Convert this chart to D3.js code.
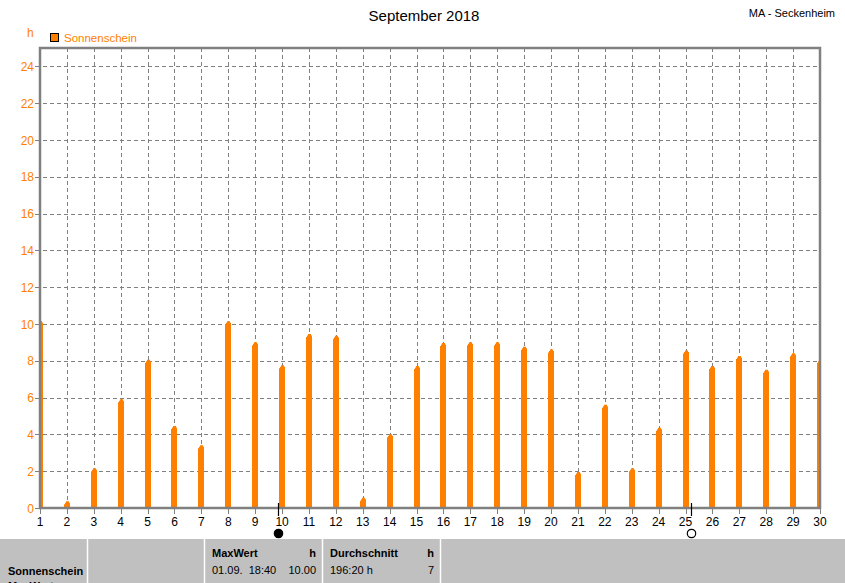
<!DOCTYPE html>
<html><head><meta charset="utf-8">
<script src="https://cdn.jsdelivr.net/npm/d3@7"></script>
<style>
html,body{margin:0;padding:0;background:#fff;}
svg{display:block;font-family:"Liberation Sans",Arial,sans-serif;}
</style></head>
<body>
<svg id="c" width="845" height="583"></svg>
<script>
const days = d3.range(1, 31);
const sunshine = [10.0,0.2,2.0,5.75,7.9,4.3,3.25,9.98,8.85,7.6,
                  9.3,9.2,0.4,3.85,7.55,8.8,8.85,8.85,8.6,8.45,
                  1.8,5.45,2.0,4.2,8.4,7.55,8.1,7.35,8.25,7.9];
const yTicks = d3.range(0, 25, 2);
const title = "September 2018";
const station = "MA - Seckenheim";
const seriesName = "Sonnenschein";
const unit = "h";
const moonNew = 9.86, moonFull = 25.21;
const tableHeaders = ["MaxWert","Durchschnitt"];
const tableValues = [["01.09.  18:40","10.00"],["196:20 h","7"]];

const svg = d3.select("#c");
const x = d3.scaleLinear().domain([1,30]).range([40,820]);
const y = d3.scaleLinear().domain([0,25]).range([508,48]);
const orange = "#ff8000", grey = "#808080";

// title
svg.append("text").attr("x",424).attr("y",21).attr("text-anchor","middle")
  .attr("font-size",15).attr("fill","#000").text(title);
svg.append("text").attr("x",835).attr("y",17).attr("text-anchor","end")
  .attr("font-size",11).attr("fill","#000").text(station);
svg.append("text").attr("x",27).attr("y",37).attr("font-size",12).attr("fill",orange).text(unit);
svg.append("rect").attr("x",50.5).attr("y",33.5).attr("width",8).attr("height",8)
  .attr("fill",orange).attr("stroke","#000");
svg.append("text").attr("x",64).attr("y",42).attr("font-size",11.5).attr("fill",orange).text(seriesName);

// grid
const g = svg.append("g");
g.selectAll(".hg").data(yTicks.filter(d=>d>0)).join("line")
  .attr("x1",36).attr("x2",820).attr("y1",d=>Math.round(y(d))+0.5).attr("y2",d=>Math.round(y(d))+0.5)
  .attr("stroke",grey).attr("stroke-dasharray","4,3");
g.selectAll(".vg").data(days.filter(d=>d>1&&d<30)).join("line")
  .attr("x1",d=>Math.round(x(d))+0.5).attr("x2",d=>Math.round(x(d))+0.5).attr("y1",48).attr("y2",513)
  .attr("stroke",grey).attr("stroke-dasharray","4,3");

// bars
svg.append("clipPath").attr("id","clip").append("rect").attr("x",40).attr("y",40).attr("width",780).attr("height",468);
svg.append("g").attr("clip-path","url(#clip)").selectAll("path").data(days).join("path")
  .attr("fill",orange)
  .attr("d",(d,i)=>{
    const cx = Math.round(x(d)), t = y(sunshine[i]), b = y(0);
    return `M${cx-3},${b}V${t}H${cx-2}V${t-1.5}H${cx-1}V${t-3}H${cx+2}V${t-1.5}H${cx+3}V${t}H${cx+3}V${b}Z`;
  });

// frame
svg.append("rect").attr("x",40).attr("y",48).attr("width",780).attr("height",460)
  .attr("fill","none").attr("stroke",grey).attr("stroke-width",2.5);

// y ticks
svg.selectAll(".yt").data(yTicks).join("line")
  .attr("x1",35).attr("x2",40).attr("y1",d=>Math.round(y(d))+0.5).attr("y2",d=>Math.round(y(d))+0.5)
  .attr("stroke",grey);
svg.selectAll(".yl").data(yTicks).join("text")
  .attr("x",34).attr("y",d=>y(d)+4.5).attr("text-anchor","end")
  .attr("font-size",12).attr("fill",orange).text(d=>d);

// x ticks
svg.selectAll(".xt").data(days).join("line")
  .attr("x1",d=>Math.round(x(d))+0.5).attr("x2",d=>Math.round(x(d))+0.5).attr("y1",508).attr("y2",514)
  .attr("stroke",grey);
svg.selectAll(".xl").data(days).join("text")
  .attr("x",d=>x(d)).attr("y",526).attr("text-anchor","middle")
  .attr("font-size",12).attr("fill","#000").text(d=>d);

// moon markers
[moonNew, moonFull].forEach((m,i)=>{
  const mx = Math.round(x(m))+0.5;
  svg.append("line").attr("x1",mx).attr("x2",mx).attr("y1",503).attr("y2",516).attr("stroke","#000").attr("stroke-width",1.2);
  svg.append("circle").attr("cx",mx).attr("cy",533.5).attr("r",4.2)
    .attr("fill",i===0?"#000":"none").attr("stroke","#000").attr("stroke-width",1.2);
});

// table
svg.append("rect").attr("x",0).attr("y",539).attr("width",845).attr("height",44).attr("fill","#c0c0c0");
[87,204,322,440].forEach(px=>{
  svg.append("line").attr("x1",px+0.5).attr("x2",px+0.5).attr("y1",539).attr("y2",583).attr("stroke","#fff").attr("stroke-width",1.5);
});
const tb = svg.append("g").attr("font-size",11).attr("fill","#000");
tb.append("text").attr("x",8).attr("y",575).attr("font-weight","bold").text(seriesName);
tb.append("text").attr("x",8).attr("y",590).attr("font-weight","bold").text(tableHeaders[0]);
const cols = [[212,316],[330,434]];
cols.forEach((c,i)=>{
  tb.append("text").attr("x",c[0]).attr("y",557).attr("font-weight","bold").text(tableHeaders[i]);
  tb.append("text").attr("x",c[1]).attr("y",557).attr("font-weight","bold").attr("text-anchor","end").text(unit);
  tb.append("text").attr("x",c[0]).attr("y",574).attr("xml:space","preserve").style("white-space","pre").text(tableValues[i][0]);
  tb.append("text").attr("x",c[1]).attr("y",574).attr("text-anchor","end").text(tableValues[i][1]);
});
</script>
</body></html>
